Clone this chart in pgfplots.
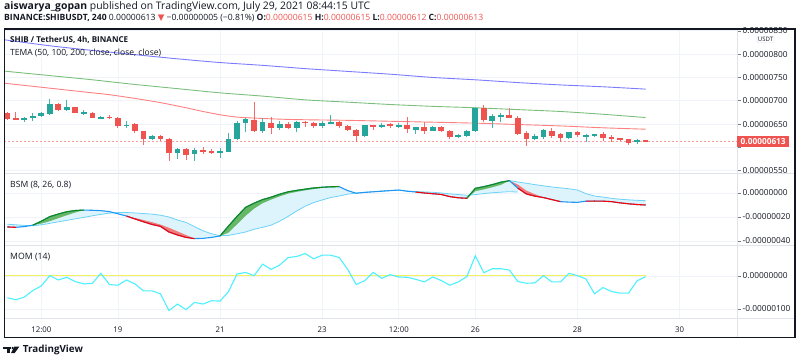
\documentclass[border=0pt]{standalone}
\usepackage{graphicx}
\usepackage{pgfplots}
\pgfplotsset{compat=1.18}
\usepackage{pgfplotstable}
\usepackage{fontspec}
\setmainfont{Open Sans}
\newfontfamily\dejavu{DejaVu Sans}
\definecolor{bull}{HTML}{26A69A}
\definecolor{bear}{HTML}{EF5350}
\definecolor{gridc}{HTML}{F0F3FA}
\definecolor{sepc}{HTML}{E0E3EB}
\definecolor{tickc}{HTML}{787B86}
\definecolor{txt}{HTML}{131722}
\definecolor{temablue}{HTML}{7B7BFF}
\definecolor{temagreen}{HTML}{7CBF7C}
\definecolor{temared}{HTML}{FF8080}
\definecolor{bsmblue}{HTML}{2196F3}
\definecolor{bsmslow}{HTML}{6CD2F7}
\definecolor{bsmfill}{HTML}{DDF4FC}
\definecolor{bsmgreen}{HTML}{128A12}
\definecolor{bsmgreenfill}{HTML}{66B866}
\definecolor{bsmred}{HTML}{FF0000}
\definecolor{bsmredfill}{HTML}{F27A7A}
\definecolor{momc}{HTML}{4DF0FF}
\definecolor{momzero}{HTML}{F2F25C}

\pgfplotstableread{
i o h l c
2 659 666 655 663
3 662 673 657 667
4 667 675 666 673
5 671 703 669 692
7 681 702 677 686
9 673 680 669 676
11 662 668 660 666
14 645 656 641 649
17 617 626 616 624
20 587 598 575 596
22 585 598 571 595
25 589 598 577 592
26 591 631 589 619
27 617 656 616 652
28 652 662 634 661
30 636 664 630 654
32 641 656 637 651
34 642 656 634 655
37 646 656 641 652
38 652 670 651 654
42 624 649 622 648
44 645 653 642 648
46 645 652 642 648
48 638 644 629 644
50 636 646 635 643
53 623 628 621 626
54 625 637 623 636
55 636 686 634 685
57 657 671 642 667
58 665 673 655 669
62 617 628 615 624
63 623 639 619 637
66 621 634 619 632
68 622 628 612 626
69 625 629 623 628
74 611 619 608 615
}\bulltab

\pgfplotstableread{
i o h l c
0 674 676 658 661
1 663 675 658 659
6 692 696 677 680
8 686 687 673 674
10 674 676 662 664
12 666 669 660 663
13 664 666 641 646
15 651 652 631 635
16 635 636 606 619
18 624 626 614 619
19 619 621 571 587
21 597 599 573 584
23 595 601 585 591
24 593 596 585 589
29 659 698 634 635
31 653 666 628 641
33 651 654 640 641
35 655 656 644 652
36 652 654 641 645
39 654 656 641 645
40 645 648 636 638
41 638 640 611 624
43 648 649 637 645
45 650 652 641 646
47 648 666 631 639
49 644 655 629 635
51 643 646 633 636
52 636 638 617 623
56 685 690 655 658
59 669 685 662 664
60 664 667 626 628
61 631 635 603 617
64 636 641 621 625
65 628 630 612 621
67 633 635 622 626
70 628 634 614 621
71 622 626 612 618
72 620 621 614 616
73 617 618 606 610
75 615 615 612 613
}\beartab

\pgfplotstableread{
i v
-0.4 831
0 830
5 818
10 808
15 799
20 790
25 782
30 776
35 769
40 763
45 757
50 750
55 745
60 739
65 734
70 730
75 725
}\temaA

\pgfplotstableread{
i v
-0.4 764
0 763
5 754
10 745
15 735
20 726
25 717
30 710
35 702
40 697
45 692
50 688
55 685
60 681
65 677
70 671
75 664
}\temaB

\pgfplotstableread{
i v
-0.4 738
0 737
3 731
6 725
9 719
12 713
15 705
18 696
21 685
23 677
25 670
27 665
30 662
33 660
36 659
40 658
45 656
50 654
55 652
60 649
65 646
70 642
75 639
}\temaC

\pgfplotstableread{
i v
0 -28.3
1 -28.6
2 -28
3 -26.8
4 -23.5
5 -19.7
6 -17.5
7 -15.6
8 -14.6
9 -14.2
10 -14.4
11 -14.7
12 -15.5
13 -17.3
14 -19.2
15 -21.6
16 -24
17 -26.2
18 -27.8
19 -32.5
20 -35
21 -37
22 -38
23 -37.8
24 -37
25 -35.8
26 -27.5
27 -19.5
28 -12
29 -8.5
30 -5.5
31 -3.5
32 -1
33 1
34 2.2
35 3.2
36 4.2
37 4.8
38 5.2
39 5.3
40 2
41 -0.2
42 0.5
43 1
44 1.5
45 2
46 2.5
47 1.5
48 0.8
49 0
50 -0.6
51 -1.2
52 -3
53 -4
54 -4.4
55 3.9
56 5.3
57 7
58 9
59 10.3
60 4
61 -0.8
62 -2.6
63 -3.8
64 -5.5
65 -7.2
66 -7.6
67 -7.8
68 -6.8
69 -6.7
70 -6.8
71 -7.2
72 -8.2
73 -9
74 -9.6
75 -10
}\bsmF

\pgfplotstableread{
i v
0 -26
1 -26.5
2 -27
3 -27.3
4 -26.5
5 -25.3
6 -24
7 -22.8
8 -21.5
9 -20.3
10 -19
11 -17.8
12 -16.8
13 -16.3
14 -16.3
15 -16.6
16 -17.1
17 -17.6
18 -18.5
19 -20
20 -22.5
21 -24.5
22 -28
23 -31.5
24 -34
25 -35.6
26 -35.3
27 -34
28 -32.5
29 -30.2
30 -28.6
31 -26.8
32 -23.5
33 -19.5
34 -15
35 -11
36 -8
37 -5.8
38 -3.8
39 -2.5
40 -1
41 0
42 0.6
43 1.1
44 1.6
45 2.1
46 2.3
47 1.6
48 1.2
49 0.9
50 0.6
51 0
52 -0.7
53 -1.3
54 -1.9
55 -1.3
56 -0.5
57 0.2
58 0.7
59 1.1
60 0.8
}\bsmS

\pgfplotstableread{
i v
59 10.3
60 9.2
61 8.1
62 7
63 6
64 5
65 4.3
66 3.5
67 2.5
68 -0.5
69 -2.5
70 -3.4
71 -4.4
72 -5.2
73 -5.7
74 -6.1
75 -6.4
}\bsmU

\pgfplotstableread{
i v
0 -66
1 -72
2 -64
3 -44
4 -30
5 1
6 -12
7 -4
8 -17
9 -24
10 -22
11 8
12 -26
13 -28
14 -12
15 -24
16 -45
17 -45
18 -54
19 -105
20 -85
21 -102
22 -80
23 -85
24 -75
25 -76
26 -47
27 6
28 11
29 1
30 36
31 20
32 33
33 56
34 59
35 68
36 52
37 63
38 63
39 56
40 20
41 -26
42 -14
43 11
44 -7
45 4
46 -3
47 -4
48 -10
49 -18
50 -3
51 -14
52 -28
53 -18
54 -2
55 61
56 10
57 22
58 22
59 18
60 -17
61 -22
62 -21
63 1
64 -18
65 -18
66 8
67 1
68 -9
69 -54
70 -35
71 -47
72 -52
73 -52
74 -15
75 -2
}\momtab

\pgfplotsset{
  pane/.style={
    scale only axis, width=733pt, xmin=-0.388, xmax=85.75,
    axis line style={draw=none},
    xtick={4,13,25,37,46,55,67,79}, xticklabels={},
    x tick style={draw=none},
    xmajorgrids, ymajorgrids,
    grid style={draw=gridc, line width=0.8pt},
    ytick pos=right, yticklabel pos=right,
    tick align=outside, major tick length=4pt,
    y tick style={draw=tickc, line width=0.7pt},
    yticklabel style={font=\fontsize{8.3}{9}\selectfont, text=txt, anchor=west, inner sep=0pt, xshift=1.5pt},
    /pgf/number format/assume math mode=true,
  },
  candle/.style 2 args={draw=none, mark=none, forget plot,
    error bars/y dir=both, error bars/y explicit, error bars/error mark=none,
    error bars/error bar style={draw=#1, line width=#2}},
}

\begin{document}
\begin{tikzpicture}
\path[use as bounding box] (0pt,0pt) rectangle (800pt,362pt);

% ---------- price pane ----------
\begin{axis}[pane, at={(4pt,189pt)}, anchor=south west, height=144pt,
  ymin=545, ymax=854, ytick={550,600,650,700,750,800,850},
  yticklabels={0.00000550,{},0.00000650,0.00000700,0.00000750,0.00000800,0.00000850}]
\addplot[temablue, line width=0.9pt, smooth] table[x=i,y=v]{\temaA};
\addplot[temagreen, line width=0.9pt, smooth] table[x=i,y=v]{\temaB};
\addplot[temared, line width=0.9pt, smooth] table[x=i,y=v]{\temaC};
\addplot[bear!55, line width=0.6pt, dash pattern=on 2pt off 2pt] coordinates {(-0.4,613) (85.75,613)};
% wicks
\addplot[candle={bull!85}{0.9pt}]
  table[x=i, y expr={0.5*(\thisrow{h}+\thisrow{l})}, y error expr={0.5*(\thisrow{h}-\thisrow{l})}]{\bulltab};
\addplot[candle={bear!85}{0.9pt}]
  table[x=i, y expr={0.5*(\thisrow{h}+\thisrow{l})}, y error expr={0.5*(\thisrow{h}-\thisrow{l})}]{\beartab};
% bodies
\addplot[candle={bull}{5.8pt}]
  table[x=i, y expr={0.5*(\thisrow{o}+\thisrow{c})}, y error expr={0.5*abs(\thisrow{c}-\thisrow{o})}]{\bulltab};
\addplot[candle={bear}{5.8pt}]
  table[x=i, y expr={0.5*(\thisrow{o}+\thisrow{c})}, y error expr={0.5*abs(\thisrow{c}-\thisrow{o})}]{\beartab};
\end{axis}

% ---------- BSM pane ----------
\begin{axis}[pane, at={(4pt,117pt)}, anchor=south west, height=72pt,
  ymin=-43.33, ymax=16.67, ytick={-40,-20,0},
  yticklabels={-0.00000040,-0.00000020,0.00000000}]
% cyan area between fast and slow lines
\addplot[fill=bsmfill, draw=none] coordinates {
(0,-28.3)(1,-28.6)(2,-28)(3,-26.8)(4,-23.5)(5,-19.7)(6,-17.5)(7,-15.6)(8,-14.6)(9,-14.2)(10,-14.4)(11,-14.7)(12,-15.5)(13,-17.3)(14,-19.2)(15,-21.6)(16,-24)(17,-26.2)(18,-27.8)(19,-32.5)(20,-35)(21,-37)(22,-38)(23,-37.8)(24,-37)(25,-35.8)(26,-27.5)(27,-19.5)(28,-12)(29,-8.5)(30,-5.5)(31,-3.5)(32,-1)(33,1)(34,2.2)(35,3.2)(36,4.2)(37,4.8)(38,5.2)(39,5.3)(40,2)(41,-0.2)(42,0.5)(43,1)(44,1.5)(45,2)(46,2.5)(47,1.5)(48,0.8)(49,0)(50,-0.6)(51,-1.2)(52,-3)(53,-4)(54,-4.4)(55,3.9)(56,5.3)(57,7)(58,9)(59,10.3)(60,4)
(60,0.8)(59,1.1)(58,0.7)(57,0.2)(56,-0.5)(55,-1.3)(54,-1.9)(53,-1.3)(52,-0.7)(51,0)(50,0.6)(49,0.9)(48,1.2)(47,1.6)(46,2.3)(45,2.1)(44,1.6)(43,1.1)(42,0.6)(41,0)(40,-1)(39,-2.5)(38,-3.8)(37,-5.8)(36,-8)(35,-11)(34,-15)(33,-19.5)(32,-23.5)(31,-26.8)(30,-28.6)(29,-30.2)(28,-32.5)(27,-34)(26,-35.3)(25,-35.6)(24,-34)(23,-31.5)(22,-28)(21,-24.5)(20,-22.5)(19,-20)(18,-18.5)(17,-17.6)(16,-17.1)(15,-16.6)(14,-16.3)(13,-16.3)(12,-16.8)(11,-17.8)(10,-19)(9,-20.3)(8,-21.5)(7,-22.8)(6,-24)(5,-25.3)(4,-26.5)(3,-27.3)(2,-27)(1,-26.5)(0,-26)};
\addplot[fill=bsmfill, draw=none] coordinates {
(59,10.3)(60,4)(61,-0.8)(62,-2.6)(63,-3.8)(64,-5.5)(65,-7.2)(66,-7.6)(67,-7.8)(68,-6.8)(69,-6.7)(70,-6.8)(71,-7.2)(72,-8.2)(73,-9)(74,-9.6)(75,-10)
(75,-6.4)(74,-6.1)(73,-5.7)(72,-5.2)(71,-4.4)(70,-3.4)(69,-2.5)(68,-0.5)(67,2.5)(66,3.5)(65,4.3)(64,5)(63,6)(62,7)(61,8.1)(60,9.2)};
% green and red bands
\addplot[fill=bsmgreenfill, draw=none] coordinates {(3,-26.8)(4,-23.5)(5,-19.7)(6,-17.5)(7,-15.6)(8,-14.6)(9,-14.2)(8,-16.2)(7,-18.5)(6,-21)(5,-23.5)(4,-25.5)};
\addplot[fill=bsmredfill, draw=none] coordinates {(14,-19.2)(15,-21.6)(16,-24)(17,-26.2)(18,-27.8)(19,-32.5)(20,-35)(21,-37)(22,-38)(21,-35)(20,-32)(19,-29)(18,-26.3)(17,-24.3)(16,-22.5)(15,-20.8)};
\addplot[fill=bsmgreenfill, draw=none] coordinates {(25,-35.8)(26,-27.5)(27,-19.5)(28,-12)(29,-8.5)(30,-5.5)(31,-3.5)(32,-1)(33,1)(34,2.2)(35,3.2)(36,4.2)(37,4.8)(38,5.2)(39,5.3)(38,4.9)(37,4.2)(36,3.3)(35,2.2)(34,1)(33,-0.5)(32,-2.8)(31,-5.5)(30,-8.5)(29,-13)(28,-19)(27,-26)(26,-33)};
\addplot[fill=bsmgreenfill, draw=none] coordinates {(54,-4.4)(55,3.9)(56,5.3)(57,7)(58,9)(59,10.3)(58,6.8)(57,4.8)(56,3)(55,1.5)};
\addplot[fill=bsmredfill, draw=none] coordinates {(59,10.3)(60,4)(61,-0.8)(62,-2.6)(63,-3.8)(62,-1)(61,2)(60,7)};
% lines
\addplot[bsmslow, line width=0.8pt] table[x=i,y=v]{\bsmS};
\addplot[bsmslow, line width=0.8pt] table[x=i,y=v]{\bsmU};
\addplot[bsmblue, line width=1.1pt] table[x=i,y=v]{\bsmF};
\addplot[bsmred, line width=1.1pt, restrict x to domain=0:1] table[x=i,y=v]{\bsmF};
\addplot[bsmgreen, line width=1.1pt, restrict x to domain=3:9] table[x=i,y=v]{\bsmF};
\addplot[bsmred, line width=1.1pt, restrict x to domain=14:22] table[x=i,y=v]{\bsmF};
\addplot[bsmgreen, line width=1.1pt, restrict x to domain=25:39] table[x=i,y=v]{\bsmF};
\addplot[bsmred, line width=1.1pt, restrict x to domain=48:54] table[x=i,y=v]{\bsmF};
\addplot[bsmgreen, line width=1.1pt, restrict x to domain=54:59] table[x=i,y=v]{\bsmF};
\addplot[bsmred, line width=1.1pt, restrict x to domain=60:65] table[x=i,y=v]{\bsmF};
\addplot[bsmred, line width=1.1pt, restrict x to domain=68:75] table[x=i,y=v]{\bsmF};
\end{axis}

% ---------- MOM pane ----------
\begin{axis}[pane, at={(4pt,44pt)}, anchor=south west, height=73pt,
  ymin=-127.3, ymax=93.9, ytick={-100,0},
  yticklabels={-0.00000100,0.00000000},
  xticklabels={12:00,19,21,23,12:00,26,28,30},
  xticklabel style={font=\fontsize{7.8}{9}\selectfont, text=txt, inner sep=0pt, yshift=-5pt}]
\addplot[momzero, line width=1pt] coordinates {(-0.4,0) (75,0)};
\addplot[momc, line width=1.1pt] table[x=i,y=v]{\momtab};
\end{axis}

% ---------- frame and separators ----------
\draw[sepc, line width=0.8pt] (4pt,189pt) -- (795pt,189pt);
\draw[sepc, line width=0.8pt] (4pt,117pt) -- (795pt,117pt);
\draw[sepc, line width=0.8pt] (4pt,44pt) -- (795pt,44pt);
\draw[sepc, line width=0.8pt] (737pt,25pt) -- (737pt,333pt);
\draw[txt, line width=1.2pt] (4.6pt,333pt) rectangle (795pt,24.6pt);

% price label
\node[fill=bear, text=white, anchor=west, inner sep=0pt, minimum height=11.5pt, minimum width=52pt,
  font=\fontsize{8.3}{9}\selectfont\bfseries] at (737pt,220.7pt) {0.00000613};
\node[draw=sepc, fill=white, rounded corners=1pt, inner sep=1pt,
  font=\fontsize{6}{7}\selectfont, text=txt] at (765.5pt,322.5pt) {USDT};

% texts
\node[anchor=west, inner sep=0pt, text=txt] at (4pt,355pt)
  {\resizebox{366pt}{!}{\fontsize{10}{11}\selectfont\textbf{aiswarya\_gopan} published on TradingView.com, July 29, 2021 08:44:15 UTC}};
\node[anchor=west, inner sep=0pt, text=txt] at (4pt,344pt)
  {\resizebox{479pt}{!}{\fontsize{8.3}{10}\selectfont\textbf{BINANCE:SHIBUSDT, 240} 0.00000613 {\dejavu\color{bear}▼} −0.00000005 (−0.81\%) \textbf{O:}{\color{bear}0.00000615} \textbf{H:}{\color{bear}0.00000615} \textbf{L:}{\color{bear}0.00000612} \textbf{C:}{\color{bear}0.00000613}}};
\node[anchor=west, inner sep=0pt, text=txt] at (10pt,322pt)
  {\resizebox{118pt}{!}{\fontsize{8.6}{10}\selectfont\bfseries SHIB / TetherUS, 4h, BINANCE}};
\node[anchor=west, inner sep=0pt, text=txt] at (10pt,309.5pt)
  {\resizebox{151pt}{!}{\fontsize{8.4}{10}\selectfont TEMA (50, 100, 200, close, close, close)}};
\node[anchor=west, inner sep=0pt, text=txt] at (10pt,177pt)
  {\resizebox{61pt}{!}{\fontsize{8.4}{10}\selectfont BSM (8, 26, 0.8)}};
\node[anchor=west, inner sep=0pt, text=txt] at (10pt,105pt)
  {\resizebox{40pt}{!}{\fontsize{8.4}{10}\selectfont MOM (14)}};

% TradingView logo
\fill[txt] (3.3pt,13pt) rectangle (11pt,15.3pt);
\fill[txt] (6.7pt,9pt) rectangle (10pt,15.3pt);
\fill[txt] (12.6pt,14.1pt) circle (1.2pt);
\fill[txt] (14.2pt,15.3pt) -- (19.3pt,15.3pt) -- (14.7pt,9pt) -- (11pt,9pt) -- cycle;
\node[anchor=west, inner sep=0pt, text=txt] at (22.8pt,12pt)
  {\resizebox{60pt}{!}{\fontsize{10}{12}\selectfont\bfseries TradingView}};
\end{tikzpicture}
\end{document}
